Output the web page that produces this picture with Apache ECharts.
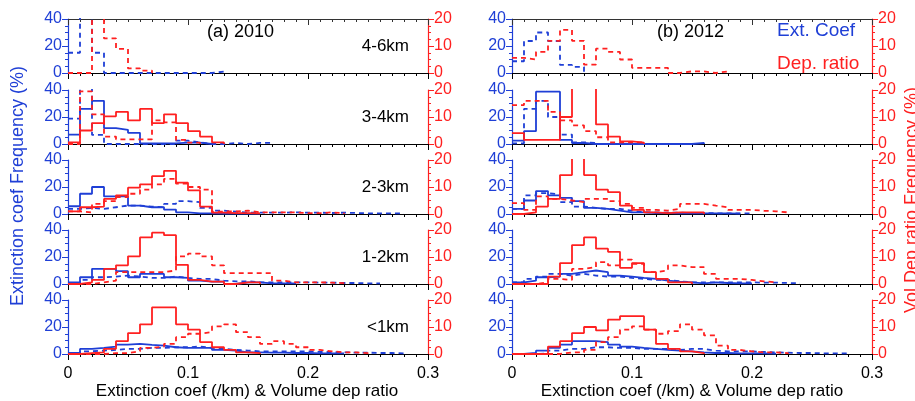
<!DOCTYPE html>
<html>
<head>
<meta charset="utf-8">
<script src="https://cdn.jsdelivr.net/npm/echarts@6/dist/echarts.min.js"></script>
<style>
  html, body { margin: 0; padding: 0; background: #fff; }
  #chart { width: 915px; height: 401px; }
</style>
</head>
<body>
<div id="chart"></div>
<script>
// bin width of every histogram, values start at 0
var binW = 0.01;
var layers = ['4-6km', '3-4km', '2-3km', '1-2km', '<1km'];
var years = ['(a) 2010', '(b) 2012'];

// extinction coef frequency (%), left axis, one list per layer (top to bottom)
var ext2010Solid = [
  [],
  [7, 26, 32, 11.75, 10.5, 8.25, 0.5, 0.5, 0.5, 1, 1, 0],
  [5.75, 15, 20, 13, 13, 6.25, 5, 5, 3.25, 1.25, 0.5, 0.5, 0.3, 0.3, 0.3, 0.3],
  [1.25, 5, 11.25, 11.25, 9.5, 5, 7.5, 7.5, 5, 4.5, 2.5, 1.75, 1.75, 0, 1.25, 1.25, 0.5, 0.5, 0.5],
  [0.75, 3.75, 4.5, 5.5, 7, 7.5, 6.75, 6.25, 5, 4.5, 4.5, 4.5, 3, 2.5, 1.25, 1.25, 1, 1, 0.75, 0.75, 0.5, 0.5, 0.5]
];
var ext2010Dash = [
  [15, 45, 15, 0, 0, 0, 0, 0, 0, 0, 0, 0, 1],
  [18.75, 45, 6.75, 0, 0, 0, 0, 0, 0, 2.5, 1.25, 0, 0, 0.8, 0, 0.8, 0.8],
  [3.75, 4.5, 3.75, 5, 6.25, 6.25, 5.5, 5, 7.5, 9.5, 8.75, 4.5, 2.5, 1.75, 1, 1, 1, 1, 1.25, 1, 1, 0.75, 1, 0.75, 0.5, 0.5, 0.5, 0.5],
  [0.5, 3, 5, 5.5, 6.25, 5.5, 4.5, 4.5, 5.5, 4.5, 3.75, 3.75, 2.5, 2, 2, 1.25, 1.25, 1.25, 1.25, 1.25, 1, 1, 0.75, 0.75, 0.5, 0.5],
  [0.5, 2, 2.5, 3, 3.75, 3.75, 4.5, 4.5, 5, 5, 5.5, 4.5, 3.75, 3, 2.5, 2, 2, 2, 2, 2, 1.5, 1.5, 1.25, 1, 1, 0.75, 0.75, 0.5]
];
var ext2012Solid = [
  [],
  [2.5, 9.5, 38.75, 38.75, 3, 0.75, 0, 0, 0, 0, 0, 0, 0, 0, 0, 0.75],
  [3.75, 10, 17, 13.75, 12, 9.5, 4.5, 3.75, 2.5, 1.25, 1.25, 0.75, 0.75, 0.5, 0.5, 0.5, 0.5, 0.5, 0.3],
  [1.25, 2.5, 5, 5.5, 7.5, 8.75, 10, 8.75, 6.25, 5.5, 4.5, 3.75, 2.5, 1.75, 1.25, 0.5, 1.25, 0.75, 0.5, 0.5],
  [0, 0.75, 2.5, 4.5, 7, 9.5, 9.5, 8.75, 7, 5.5, 4.5, 3.75, 3, 2.5, 2, 1.25, 0.75, 0.75, 0.5, 0.5, 0.5, 0.3]
];
var ext2012Dash = [
  [8.7, 23.7, 30, 23.7, 6, 4.5],
  [0.5, 26, 32, 20, 7, 1.25, 0.75],
  [3.75, 13.75, 15.5, 14.5, 8.75, 5.5, 4.5, 3.75, 3.75, 2.5, 1.25, 1.25, 1, 1, 0.75, 0.75, 0.5, 0.5, 0.5, 0.5],
  [1.25, 3.75, 5.5, 7.5, 6.25, 7.5, 6.25, 5.5, 5.5, 4.5, 3.75, 3, 3, 2, 1.25, 1.25, 1.25, 1.25, 1.25, 1.25, 1, 1, 0.75, 0.5],
  [0, 0, 0.5, 2.5, 3.75, 3.75, 5, 5, 4.5, 4.5, 3.75, 3.75, 3.75, 3, 3.75, 3.75, 2.5, 2, 2, 2, 1.5, 1.25, 1, 0.75, 0.75, 0.5, 0.5, 0.5]
];

// volume depolarization ratio frequency (%), right axis
var dep2010Solid = [
  [],
  [0.6, 5, 7.75, 10.25, 11.9, 8.75, 13, 7.75, 11, 7.75, 4.75, 2.75, 0.6],
  [1, 2.5, 2.75, 5.6, 6.9, 9.75, 11, 14, 16, 11.6, 8.75, 2.75, 0.5, 0.3, 0.3, 0.2],
  [0, 0.6, 1.5, 5.6, 6.9, 10.25, 17.25, 19, 18.1, 7.1, 1.5, 0.9, 0.9, 0, 0.6, 0.6],
  [0, 0.3, 0.6, 1.9, 4.75, 7.75, 11, 17.25, 17.25, 11, 9, 4.4, 2.5, 1.5, 0.6, 0.3]
];
var dep2010Dash = [
  [0, 0, 25, 12.8, 8.9, 1.7, 0.9],
  [0, 19.5, 11, 2.75, 1.75, 1.75, 1.75, 8.75, 8, 1.5, 0.5],
  [1, 0.6, 3.75, 4.75, 6.25, 7.5, 9, 11, 13, 11.25, 10, 9, 0.9, 1, 1.25, 0.6, 0.6, 0.6, 0.6, 0.3, 0.3, 0.6, 0.3],
  [0, 0, 0.6, 1.25, 4.4, 4.4, 4.4, 4.4, 5, 10.25, 11.25, 10.25, 6.9, 4, 4, 4, 4, 1.25, 0.6, 0.6, 0.6, 0.5, 0.3],
  [0, 0, 0, 0.3, 0.3, 1, 2.25, 2.75, 3.75, 6.25, 7.5, 8.1, 10.25, 11, 8.1, 6.25, 3.75, 4.75, 3.75, 2.5, 1.5, 1, 0.6, 0.6, 0.3]
];
var dep2012Solid = [
  [],
  [4, 1.5, 1.5, 1.5, 10, 25, 25, 7.25, 2.75, 1, 0.5],
  [0, 0.6, 2.75, 5.6, 14.4, 25, 14.4, 9, 8.1, 3.1, 1.5, 0.6, 0.3, 0.6, 0.6, 0.6],
  [0, 0, 0, 2.75, 7.75, 14.4, 17.25, 13.1, 11.9, 6, 7.75, 4.4, 1.9, 0.6, 0.6],
  [0, 0, 0, 2.75, 4.75, 7.75, 10, 8.75, 12.75, 14, 14, 9, 3.75, 1.9, 1, 0.3]
];
var dep2012Dash = [
  [5.6, 5, 7.8, 11.9, 16, 11.9, 3.1, 9, 7.8, 5, 1.9, 1.9, 1.9, 0, 0.6, 0.6, 0, 0.6],
  [14.4, 16, 16, 11.9, 8.75, 6.9, 4.75, 2.5, 0.6, 0.6, 0.6],
  [4, 1.5, 6.5, 5.6, 5, 4.4, 5.6, 5.6, 4.75, 3.75, 2.25, 1.5, 1.25, 1.9, 3.75, 3.75, 3.1, 2.5, 1.5, 1.5, 1.2, 1, 0.6],
  [0, 0, 0.6, 1.9, 1.5, 5.6, 6.25, 8.1, 6.9, 9, 7.5, 4.4, 5, 6.9, 6.25, 6.25, 3.75, 1.9, 1.9, 1.5, 1, 0.6],
  [0, 0, 0, 0, 0.6, 0.6, 1.5, 4.4, 6.25, 9, 10.25, 9, 7.5, 8.5, 11, 9, 6.9, 3.1, 1.5, 1, 0.6, 0.6, 0.3]
];

var BLUE = '#1f3fd6';
var RED = '#ff2020';
var FONT = '"Liberation Sans", Arial, sans-serif';

var colLeft = [68, 512];
var rowTop = [19, 90, 160, 230, 300];
var plotW = 360, plotH = 54;

// bins -> step points (last bin drops back to 0)
function steps(vals) {
  var pts = [];
  for (var i = 0; i < vals.length; i++) pts.push([+(i * binW).toFixed(3), vals[i]]);
  pts.push([+(vals.length * binW).toFixed(3), 0]);
  return pts;
}

var grids = [], xAxes = [], yAxes = [], series = [], graphics = [];

for (var r = 0; r < 5; r++) {
  for (var c = 0; c < 2; c++) {
    var g = r * 2 + c;
    grids.push({ left: colLeft[c], top: rowTop[r], width: plotW, height: plotH });
    xAxes.push({
      gridIndex: g, type: 'value', min: 0, max: 0.3, interval: 0.1, position: 'bottom',
      axisLine: { show: true, onZero: false, lineStyle: { color: '#000', width: 1 } },
      axisTick: { show: true, length: 6, lineStyle: { color: '#000' } },
      minorTick: { show: true, splitNumber: 10, length: 3, lineStyle: { color: '#000' } },
      splitLine: { show: false },
      axisLabel: { show: r === 4, color: '#000', fontSize: 16, fontFamily: FONT, margin: 12 }
    });
    yAxes.push({
      gridIndex: g, type: 'value', min: 0, max: 40, interval: 20, position: 'left',
      axisLine: { show: true, onZero: false, lineStyle: { color: BLUE, width: 1.2 } },
      axisTick: { show: true, length: 6, lineStyle: { color: BLUE } },
      minorTick: { show: true, splitNumber: 4, length: 3, lineStyle: { color: BLUE } },
      splitLine: { show: false },
      axisLabel: { color: BLUE, fontSize: 16, fontFamily: FONT, margin: 6 }
    });
    yAxes.push({
      gridIndex: g, type: 'value', min: 0, max: 20, interval: 10, position: 'right',
      axisLine: { show: true, onZero: false, lineStyle: { color: RED, width: 1.2 } },
      axisTick: { show: true, length: 6, lineStyle: { color: RED } },
      minorTick: { show: true, splitNumber: 4, length: 3, lineStyle: { color: RED } },
      splitLine: { show: false },
      axisLabel: { color: RED, fontSize: 16, fontFamily: FONT, margin: 6 }
    });

    var es = c === 0 ? ext2010Solid[r] : ext2012Solid[r];
    var ed = c === 0 ? ext2010Dash[r] : ext2012Dash[r];
    var ds = c === 0 ? dep2010Solid[r] : dep2012Solid[r];
    var dd = c === 0 ? dep2010Dash[r] : dep2012Dash[r];
    var list = [
      [ed, BLUE, [5, 4], 0],
      [es, BLUE, 'solid', 0],
      [dd, RED, [5, 4], 1],
      [ds, RED, 'solid', 1]
    ];
    for (var k = 0; k < list.length; k++) {
      var s = list[k];
      if (!s[0].length) continue;
      series.push({
        type: 'line', step: 'end', xAxisIndex: g, yAxisIndex: 2 * g + s[3],
        data: steps(s[0]), symbol: 'none', silent: true, clip: true,
        lineStyle: { color: s[1], width: 1.8, type: s[2] }
      });
    }
  }
  // layer name only in the 2010 column
  graphics.push({
    type: 'text', x: 409, y: rowTop[r] + 27,
    style: { text: layers[r], font: '17px ' + FONT, fill: '#000', align: 'right', verticalAlign: 'middle' }
  });
}

// frame on top of the first row with inward ticks (indices 10, 11)
for (var c2 = 0; c2 < 2; c2++) {
  xAxes.push({
    gridIndex: c2, type: 'value', min: 0, max: 0.3, interval: 0.1, position: 'top',
    axisLine: { show: true, onZero: false, lineStyle: { color: '#333' } },
    axisTick: { show: true, inside: true, length: 6, lineStyle: { color: '#333' } },
    minorTick: { show: true, splitNumber: 10, length: 3, lineStyle: { color: '#333' } },
    splitLine: { show: false }, axisLabel: { show: false }
  });
}

// panel titles and legend texts
graphics.push({ type: 'text', left: 207, top: 23, style: { text: years[0], font: '18px ' + FONT, fill: '#000' } });
graphics.push({ type: 'text', left: 657, top: 23, style: { text: years[1], font: '18px ' + FONT, fill: '#000' } });
graphics.push({ type: 'text', left: 777, top: 21, style: { text: 'Ext. Coef', font: '19px ' + FONT, fill: BLUE } });
graphics.push({ type: 'text', left: 777, top: 54, style: { text: 'Dep. ratio', font: '19px ' + FONT, fill: RED } });

// axis titles
graphics.push({ type: 'text', x: 247, y: 391, style: { text: 'Extinction coef (/km) & Volume dep ratio', font: '17px ' + FONT, fill: '#000', align: 'center', verticalAlign: 'middle' } });
graphics.push({ type: 'text', x: 692, y: 391, style: { text: 'Extinction coef (/km) & Volume dep ratio', font: '17px ' + FONT, fill: '#000', align: 'center', verticalAlign: 'middle' } });
graphics.push({ type: 'text', x: 18, y: 186, rotation: Math.PI / 2, style: { text: 'Extinction coef Frequency (%)', font: '18px ' + FONT, fill: BLUE, align: 'center', verticalAlign: 'middle' } });
graphics.push({ type: 'text', x: 912, y: 200, rotation: Math.PI / 2, style: { text: 'Vol Dep ratio Frequency (%)', font: '18px ' + FONT, fill: RED, align: 'center', verticalAlign: 'middle' } });

var chart = echarts.init(document.getElementById('chart'));
chart.setOption({
  animation: false,
  backgroundColor: '#fff',
  grid: grids,
  xAxis: xAxes,
  yAxis: yAxes,
  series: series,
  graphic: graphics
});
</script>
</body>
</html>
